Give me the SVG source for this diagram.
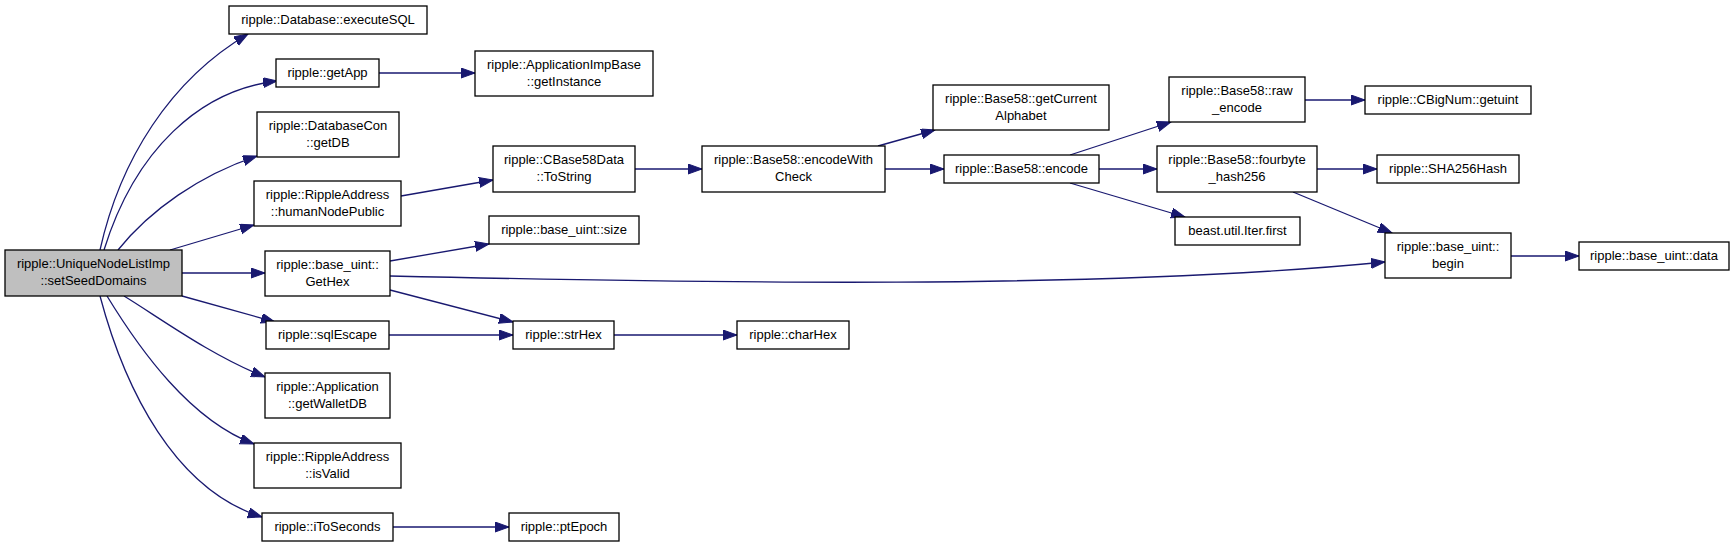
<svg xmlns="http://www.w3.org/2000/svg" width="1736" height="547" viewBox="0 0 1736 547">
<style>
.n rect{fill:#ffffff;stroke:#000000;stroke-width:1.3}
.n.main rect{fill:#bfbfbf}
.n text{font-family:"Liberation Sans",Arial,Helvetica,sans-serif;font-size:13px;fill:#000000;text-anchor:middle}
.e path{fill:none;stroke:#191970;stroke-width:1.3;marker-end:url(#arr)}
</style>
<defs>
<marker id="arr" markerUnits="userSpaceOnUse" markerWidth="15" markerHeight="11" refX="14" refY="5" orient="auto" viewBox="0 0 15 11">
<path d="M0,0 L14,5 L0,10 z" fill="#191970" stroke="#191970" stroke-width="1"/>
</marker>
</defs>
<rect width="1736" height="547" fill="#ffffff"/>
<g id="connectors" class="e">
<path d="M100,250 C120,160 170,80 248,34"/>
<path d="M104,250 C135,150 200,90 277,81"/>
<path d="M118,250 C150,210 200,175 257,156"/>
<path d="M170,250 L254,225"/>
<path d="M182,273 L265,273"/>
<path d="M182,296 L275,322"/>
<path d="M124,296 C160,318 210,355 265,377"/>
<path d="M107,296 C140,350 190,420 254,444"/>
<path d="M100,296 C125,390 175,490 262,517"/>
<path d="M379,73 L475,73"/>
<path d="M401,196 L493,180"/>
<path d="M390,261 L489,244"/>
<path d="M390,276 C700,283 1100,290 1385,262"/>
<path d="M390,290 L513,322"/>
<path d="M389,335 L513,335"/>
<path d="M614,335 L737,335"/>
<path d="M393,527 L509,527"/>
<path d="M635,169 L702,169"/>
<path d="M878,146 L935,130"/>
<path d="M885,169 L944,169"/>
<path d="M1070,155 L1171,122"/>
<path d="M1099,169 L1157,169"/>
<path d="M1070,183 L1185,217"/>
<path d="M1305,100 L1365,100"/>
<path d="M1317,169 L1377,169"/>
<path d="M1293,192 L1392,233"/>
<path d="M1511,256 L1579,256"/>
</g>
<g id="n_main" class="n main"><rect x="5" y="250" width="177" height="46"/><text x="93.5" y="268">ripple::UniqueNodeListImp</text><text x="93.5" y="285">::setSeedDomains</text></g>
<g id="n_executeSQL" class="n"><rect x="229" y="6" width="198" height="28"/><text x="328" y="24">ripple::Database::executeSQL</text></g>
<g id="n_getApp" class="n"><rect x="276" y="59" width="103" height="28"/><text x="327.5" y="77">ripple::getApp</text></g>
<g id="n_getDB" class="n"><rect x="257" y="112" width="142" height="45"/><text x="328" y="130">ripple::DatabaseCon</text><text x="328" y="147">::getDB</text></g>
<g id="n_humanNodePublic" class="n"><rect x="254" y="181" width="147" height="45"/><text x="327.5" y="199">ripple::RippleAddress</text><text x="327.5" y="216">::humanNodePublic</text></g>
<g id="n_GetHex" class="n"><rect x="265" y="251" width="125" height="45"/><text x="327.5" y="269">ripple::base_uint::</text><text x="327.5" y="286">GetHex</text></g>
<g id="n_sqlEscape" class="n"><rect x="266" y="321" width="123" height="28"/><text x="327.5" y="339">ripple::sqlEscape</text></g>
<g id="n_getWalletDB" class="n"><rect x="265" y="373" width="125" height="45"/><text x="327.5" y="391">ripple::Application</text><text x="327.5" y="408">::getWalletDB</text></g>
<g id="n_isValid" class="n"><rect x="254" y="443" width="147" height="45"/><text x="327.5" y="461">ripple::RippleAddress</text><text x="327.5" y="478">::isValid</text></g>
<g id="n_iToSeconds" class="n"><rect x="262" y="513" width="131" height="28"/><text x="327.5" y="531">ripple::iToSeconds</text></g>
<g id="n_getInstance" class="n"><rect x="475" y="51" width="178" height="45"/><text x="564" y="69">ripple::ApplicationImpBase</text><text x="564" y="86">::getInstance</text></g>
<g id="n_ToString" class="n"><rect x="493" y="146" width="142" height="46"/><text x="564" y="164">ripple::CBase58Data</text><text x="564" y="181">::ToString</text></g>
<g id="n_size" class="n"><rect x="489" y="216" width="150" height="28"/><text x="564" y="234">ripple::base_uint::size</text></g>
<g id="n_strHex" class="n"><rect x="513" y="321" width="101" height="28"/><text x="563.5" y="339">ripple::strHex</text></g>
<g id="n_ptEpoch" class="n"><rect x="509" y="513" width="110" height="28"/><text x="564" y="531">ripple::ptEpoch</text></g>
<g id="n_charHex" class="n"><rect x="737" y="321" width="112" height="28"/><text x="793" y="339">ripple::charHex</text></g>
<g id="n_encodeWithCheck" class="n"><rect x="702" y="146" width="183" height="46"/><text x="793.5" y="164">ripple::Base58::encodeWith</text><text x="793.5" y="181">Check</text></g>
<g id="n_getCurrentAlphabet" class="n"><rect x="933" y="85" width="176" height="45"/><text x="1021" y="103">ripple::Base58::getCurrent</text><text x="1021" y="120">Alphabet</text></g>
<g id="n_encode" class="n"><rect x="944" y="155" width="155" height="28"/><text x="1021.5" y="173">ripple::Base58::encode</text></g>
<g id="n_raw_encode" class="n"><rect x="1169" y="77" width="136" height="45"/><text x="1237" y="95">ripple::Base58::raw</text><text x="1237" y="112">_encode</text></g>
<g id="n_fourbyte" class="n"><rect x="1157" y="146" width="160" height="46"/><text x="1237" y="164">ripple::Base58::fourbyte</text><text x="1237" y="181">_hash256</text></g>
<g id="n_beast" class="n"><rect x="1175" y="217" width="125" height="28"/><text x="1237.5" y="235">beast.util.Iter.first</text></g>
<g id="n_getuint" class="n"><rect x="1365" y="86" width="166" height="28"/><text x="1448" y="104">ripple::CBigNum::getuint</text></g>
<g id="n_SHA256Hash" class="n"><rect x="1377" y="155" width="142" height="28"/><text x="1448" y="173">ripple::SHA256Hash</text></g>
<g id="n_begin" class="n"><rect x="1385" y="233" width="126" height="45"/><text x="1448" y="251">ripple::base_uint::</text><text x="1448" y="268">begin</text></g>
<g id="n_data" class="n"><rect x="1579" y="242" width="150" height="28"/><text x="1654" y="260">ripple::base_uint::data</text></g>
</svg>
